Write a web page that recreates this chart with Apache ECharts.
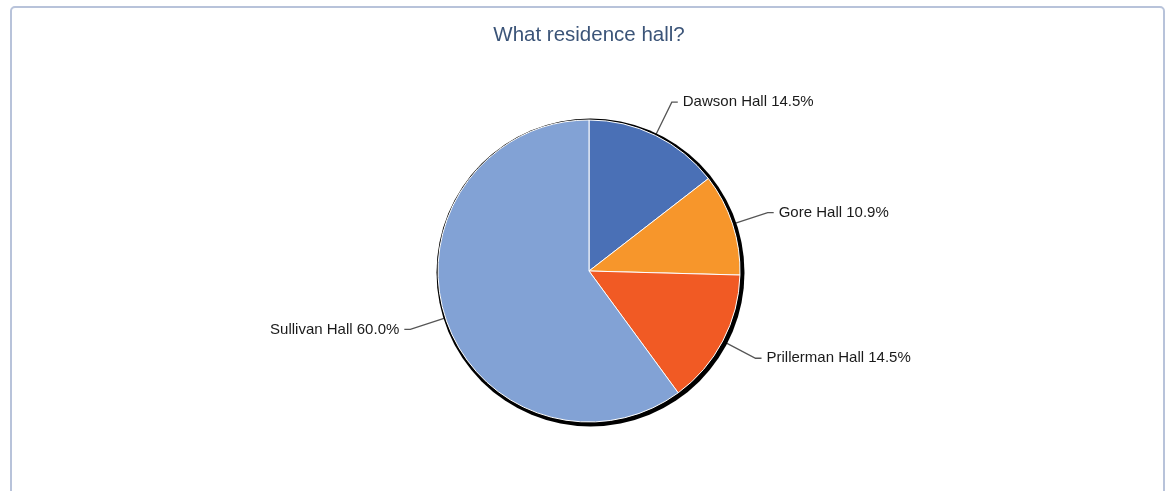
<!DOCTYPE html>
<html>
<head>
<meta charset="utf-8">
<script src="https://cdn.jsdelivr.net/npm/echarts@6/dist/echarts.min.js"></script>
<style>
html,body{margin:0;padding:0;background:#fff;}
#frame{position:absolute;left:10px;top:6px;width:1155px;height:500px;border:2px solid #b8c3da;border-radius:5px;box-sizing:border-box;}
#chart{position:absolute;left:0;top:0;width:1166px;height:491px;}
</style>
</head>
<body>
<div id="frame"></div>
<div id="chart"></div>
<script>
const title = 'What residence hall?';
const categories = ['Dawson Hall', 'Gore Hall', 'Prillerman Hall', 'Sullivan Hall'];
const percentages = [14.5, 10.9, 14.5, 60.0];
const colors = ['#4a70b6', '#f7962b', '#f15a24', '#82a2d5'];

const cx = 589, cy = 271, R = 151;
const chart = echarts.init(document.getElementById('chart'));
chart.setOption({
  animation: false,
  title: {
    text: title, left: 584, textAlign: 'center', top: 20,
    textStyle: {color: '#3b5478', fontSize: 20.5, fontWeight: 'normal', fontFamily: 'Liberation Sans, Arial, sans-serif'}
  },
  series: [
    {
      type: 'pie', silent: true, center: [cx + 1.5, cy + 1.5], radius: R + 3,
      label: {show: false}, labelLine: {show: false},
      itemStyle: {color: '#000'}, data: [1]
    },
    {
      type: 'pie', center: [cx, cy], radius: R, startAngle: 90, clockwise: true,
      itemStyle: {borderColor: '#ffffff', borderWidth: 1},
      label: {
        formatter: p => p.name + ' ' + p.value.toFixed(1) + '%',
        color: '#1a1a1a', fontSize: 15, fontFamily: 'Liberation Sans, Arial, sans-serif',
        padding: [7, 0, 0, 0]
      },
      labelLine: {length: 37, length2: 6, lineStyle: {color: '#555', width: 1.3}},
      data: categories.map((c, i) => ({name: c, value: percentages[i], itemStyle: {color: colors[i]}}))
    }
  ]
});
</script>
</body>
</html>
